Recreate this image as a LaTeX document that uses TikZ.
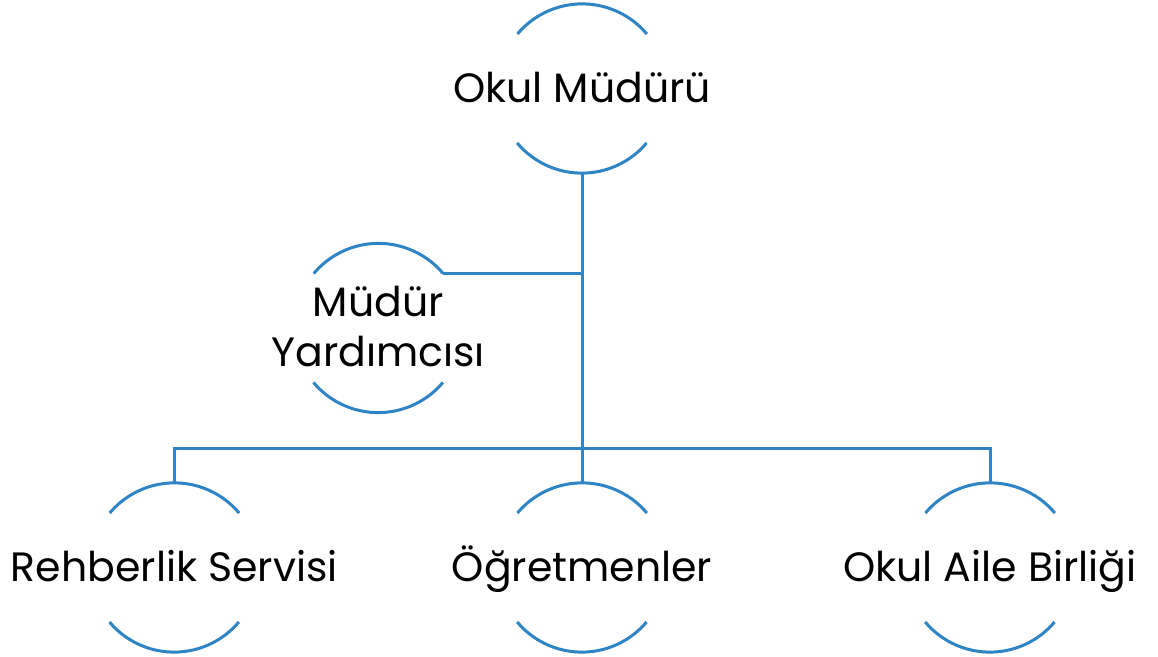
\documentclass[tikz,border=0pt]{standalone}
\usepackage{fontspec}
\setmainfont{Poppins}
\definecolor{lineblue}{RGB}{46,132,196}
\begin{document}
\begin{tikzpicture}[x=1pt,y=1pt,
  ring/.style={circle,minimum size=169pt,inner sep=0pt,draw=none},
  arcline/.style={draw=lineblue,line width=3pt},
  conn/.style={draw=lineblue,line width=3pt},
  lbl/.style={anchor=base,inner sep=0pt,font=\fontsize{41}{50}\selectfont,text=black}]
\useasboundingbox (0,0) rectangle (1158,656);
\node[ring] (top) at (582,567.5) {};
\node[ring] (my) at (378.3,328) {};
\node[ring] (reh) at (174.3,88.5) {};
\node[ring] (ogr) at (582,88.5) {};
\node[ring] (oab) at (990,88.5) {};
\foreach \n in {top,my,reh,ogr,oab}{
  \draw[arcline] (\n.40) arc[start angle=40,end angle=140,radius=84.5pt];
  \draw[arcline] (\n.220) arc[start angle=220,end angle=320,radius=84.5pt];
}
\node[lbl] (ttop) at (582,553) {Okul Müdürü};
\node[lbl] (tmy1) at (378.3,339) {Müdür};
\node[lbl] (tmy2) at (378.3,289.3) {Yardımcısı};
\node[lbl] (treh) at (174.3,74.3) {Rehberlik Servisi};
\node[lbl] (togr) at (582,74.3) {Öğretmenler};
\node[lbl] (toab) at (990,74.3) {Okul Aile Birliği};
\coordinate (bus) at (582,207.7);
\draw[conn] (top.south) -- (ogr.north);
\draw[conn] (my.40) -- (my.40 -| top.south);
\draw[conn] (reh.north) |- (bus) -| (oab.north);
\end{tikzpicture}
\end{document}
